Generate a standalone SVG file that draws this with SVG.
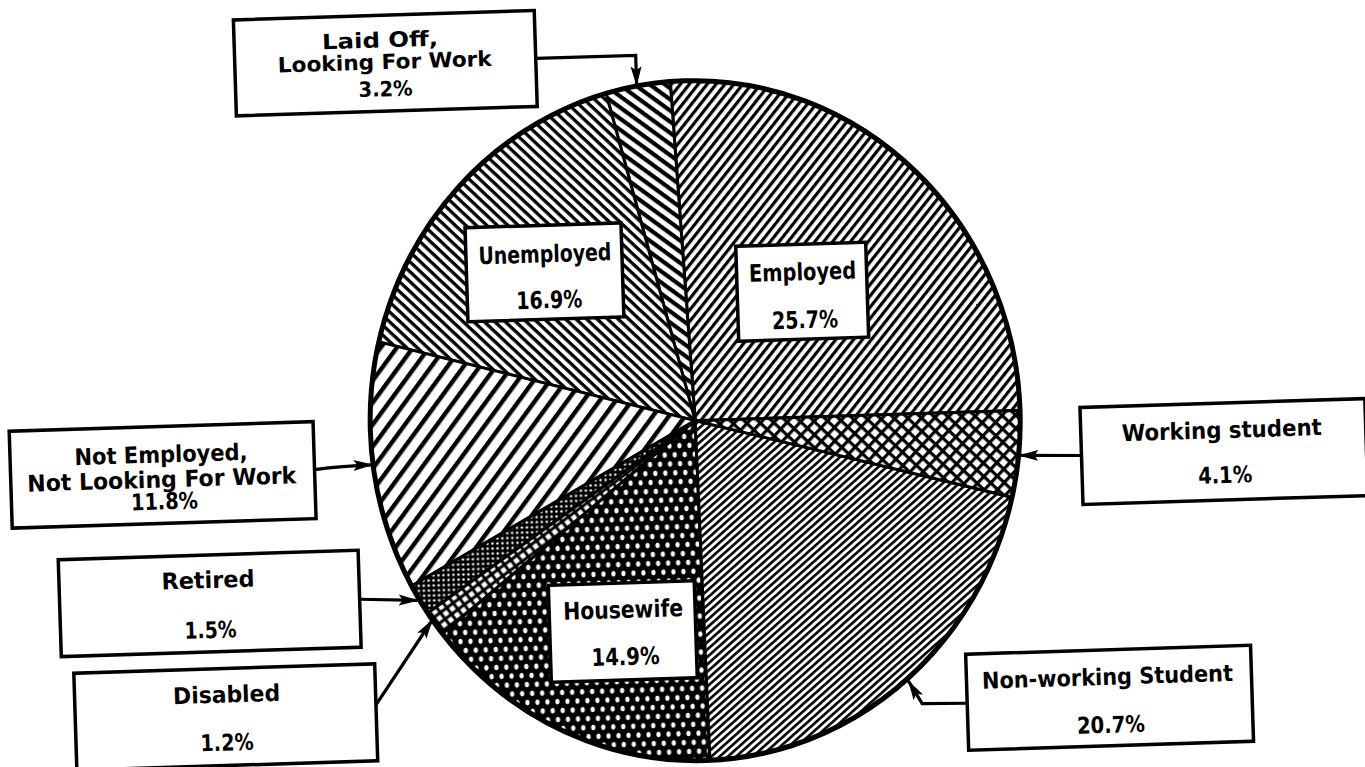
<svg xmlns="http://www.w3.org/2000/svg" width="1365" height="767" viewBox="0 0 1365 767">
<defs>
<style>
.box{fill:#fff;stroke:#000;stroke-width:3.5}
.lbl{font-family:"DejaVu Sans","Liberation Sans",sans-serif;font-weight:bold;font-size:23px;fill:#000;text-anchor:middle}
.big{font-size:24px}
.sm{font-size:21px}
.slice{stroke:#000;stroke-width:3;stroke-linejoin:round}
.conn{fill:none;stroke:#000;stroke-width:3.2;marker-end:url(#arr)}
</style>
<pattern id="pEmp" width="7" height="7" patternUnits="userSpaceOnUse" patternTransform="rotate(-50)"><rect width="7" height="7" fill="#fff"/><rect width="7" height="3.2" fill="#000"/></pattern>
<pattern id="pLaid" width="9" height="9" patternUnits="userSpaceOnUse" patternTransform="rotate(38)"><rect width="9" height="9" fill="#fff"/><rect width="9" height="4.2" fill="#000"/></pattern>
<pattern id="pUnemp" width="7.2" height="7.2" patternUnits="userSpaceOnUse" patternTransform="rotate(45)"><rect width="7.2" height="7.2" fill="#fff"/><rect width="7.2" height="3.3" fill="#000"/></pattern>
<pattern id="pNotEmp" width="13" height="13" patternUnits="userSpaceOnUse" patternTransform="rotate(-52)"><rect width="13" height="13" fill="#fff"/><rect width="13" height="4.4" fill="#000"/></pattern>
<pattern id="pNonW" width="5.5" height="5.5" patternUnits="userSpaceOnUse" patternTransform="rotate(-40)"><rect width="5.5" height="5.5" fill="#fff"/><rect width="5.5" height="2.6" fill="#000"/></pattern>
<pattern id="pWork" width="9.5" height="9.5" patternUnits="userSpaceOnUse" patternTransform="rotate(45)"><rect width="9.5" height="9.5" fill="#fff"/><rect width="9.5" height="3.2" fill="#000"/><rect width="3.2" height="9.5" fill="#000"/></pattern>
<pattern id="pHouse" width="10" height="18" patternUnits="userSpaceOnUse"><rect width="10" height="18" fill="#000"/><ellipse cx="2.5" cy="4.5" rx="2.1" ry="2.8" fill="#fff"/><ellipse cx="7.5" cy="13.5" rx="2.1" ry="2.8" fill="#fff"/></pattern>
<pattern id="pRet" width="5" height="5" patternUnits="userSpaceOnUse"><rect width="5" height="5" fill="#000"/><circle cx="2.5" cy="2.5" r="1.2" fill="#fff"/></pattern>
<pattern id="pDis" width="8" height="8" patternUnits="userSpaceOnUse" patternTransform="rotate(-35)"><rect width="8" height="8" fill="#000"/><rect x="1.5" y="1.5" width="5" height="5" fill="#fff"/></pattern>
<marker id="arr" markerWidth="20" markerHeight="12" refX="19" refY="6" orient="auto" markerUnits="userSpaceOnUse"><path d="M0,0.5 L20,6 L0,11.5 L4,6 Z" fill="#000"/></marker>
</defs>
<rect width="1365" height="767" fill="#fff"/>
<g transform="rotate(-1.8 683 383)">
<g id="pie">
<g id="slice-employed"><path class="slice" fill="url(#pEmp)" d="M694,421 L1019,421 A325,340 0 0 0 679.7,81.3 Z"/></g>
<g id="slice-laidoff"><path class="slice" fill="url(#pLaid)" d="M694,421 L679.7,81.3 A325,340 0 0 0 615.2,91.2 Z"/></g>
<g id="slice-unemployed"><path class="slice" fill="url(#pUnemp)" d="M694,421 L615.2,91.2 A325,340 0 0 0 380.3,332.3 Z"/></g>
<g id="slice-notemployed"><path class="slice" fill="url(#pNotEmp)" d="M694,421 L380.3,332.3 A325,340 0 0 0 405.4,577.3 Z"/></g>
<g id="slice-retired"><path class="slice" fill="url(#pRet)" d="M694,421 L405.4,577.3 A325,340 0 0 0 420.7,605 Z"/></g>
<g id="slice-disabled"><path class="slice" fill="url(#pDis)" d="M694,421 L420.7,605 A325,340 0 0 0 434.8,626 Z"/></g>
<g id="slice-housewife"><path class="slice" fill="url(#pHouse)" d="M694,421 L434.8,626 A325,340 0 0 0 698.1,761 Z"/></g>
<g id="slice-nonworking"><path class="slice" fill="url(#pNonW)" d="M694,421 L698.1,761 A325,340 0 0 0 1008.3,507.6 Z"/></g>
<g id="slice-working"><path class="slice" fill="url(#pWork)" d="M694,421 L1008.3,507.6 A325,340 0 0 0 1019,421 Z"/></g>
<ellipse cx="694" cy="421" rx="325" ry="340" fill="none" stroke="#000" stroke-width="5"/>
</g>
<g id="connectors">
<path class="conn" d="M546,54 H646 V84"/>
<path class="conn" d="M312,458 Q340,455 370,455"/>
<path class="conn" d="M353,589 L411,592"/>
<path class="conn" d="M366,695 L425,612"/>
<path class="conn" d="M1079,468 L1017,466"/>
<path class="conn" d="M957,712 L912,711 L899,688"/>
</g>
<g id="lbl-laidoff">
<rect class="box" x="245" y="6" width="301" height="96"/>
<text class="lbl sm" x="391" y="38" textLength="116" lengthAdjust="spacingAndGlyphs">Laid Off,</text>
<text class="lbl sm" x="395" y="60" textLength="214" lengthAdjust="spacingAndGlyphs">Looking For Work</text>
<text class="lbl sm" x="395" y="87" textLength="54" lengthAdjust="spacingAndGlyphs">3.2%</text>
</g>
<g id="lbl-notemployed">
<rect class="box" x="8" y="410" width="304" height="97"/>
<text class="lbl" x="159" y="446" textLength="173" lengthAdjust="spacingAndGlyphs">Not Employed,</text>
<text class="lbl" x="159" y="471" textLength="269" lengthAdjust="spacingAndGlyphs">Not Looking For Work</text>
<text class="lbl" x="161" y="493" textLength="67" lengthAdjust="spacingAndGlyphs">11.8%</text>
</g>
<g id="lbl-retired">
<rect class="box" x="53" y="540" width="300" height="97"/>
<text class="lbl" x="202" y="573" textLength="93" lengthAdjust="spacingAndGlyphs">Retired</text>
<text class="lbl" x="203" y="623" textLength="52" lengthAdjust="spacingAndGlyphs">1.5%</text>
</g>
<g id="lbl-disabled">
<rect class="box" x="65" y="654" width="301" height="97"/>
<text class="lbl" x="217" y="688" textLength="107" lengthAdjust="spacingAndGlyphs">Disabled</text>
<text class="lbl" x="216" y="736" textLength="53" lengthAdjust="spacingAndGlyphs">1.2%</text>
</g>
<g id="lbl-working">
<rect class="box" x="1079" y="420" width="285" height="97"/>
<text class="lbl" x="1220" y="455" textLength="200" lengthAdjust="spacingAndGlyphs">Working student</text>
<text class="lbl" x="1222" y="500" textLength="54" lengthAdjust="spacingAndGlyphs">4.1%</text>
</g>
<g id="lbl-nonworking">
<rect class="box" x="957" y="663" width="285" height="96"/>
<text class="lbl" x="1098" y="698" textLength="251" lengthAdjust="spacingAndGlyphs">Non-working Student</text>
<text class="lbl" x="1100" y="746" textLength="68" lengthAdjust="spacingAndGlyphs">20.7%</text>
</g>
<g id="lbl-unemployed">
<rect class="box" x="470" y="221" width="156" height="94"/>
<text class="lbl big" x="549" y="258" textLength="133" lengthAdjust="spacingAndGlyphs">Unemployed</text>
<text class="lbl big" x="552" y="304" textLength="66" lengthAdjust="spacingAndGlyphs">16.9%</text>
</g>
<g id="lbl-employed">
<rect class="box" x="740" y="248" width="130" height="95"/>
<text class="lbl big" x="806" y="284" textLength="107" lengthAdjust="spacingAndGlyphs">Employed</text>
<text class="lbl big" x="807" y="332" textLength="66" lengthAdjust="spacingAndGlyphs">25.7%</text>
</g>
<g id="lbl-housewife">
<rect class="box" x="542" y="581" width="146" height="97"/>
<text class="lbl big" x="616" y="616" textLength="120" lengthAdjust="spacingAndGlyphs">Housewife</text>
<text class="lbl big" x="617" y="663" textLength="68" lengthAdjust="spacingAndGlyphs">14.9%</text>
</g>
</g>
</svg>
